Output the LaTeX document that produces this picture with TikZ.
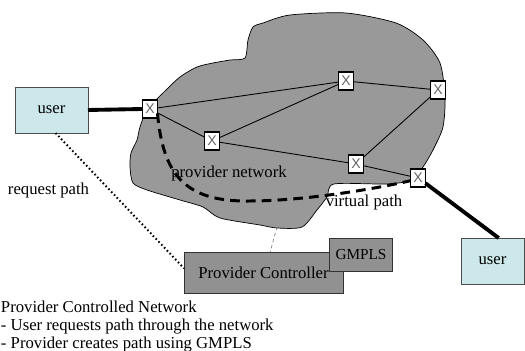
\documentclass[tikz,border=0pt]{standalone}
\usepackage{tikz}
\usepackage{xcolor}
\usepackage{fontspec}
\setmainfont{Liberation Serif}
\newfontfamily\xfont{Liberation Sans}
\definecolor{userblue}{RGB}{204,232,234}

\begin{document}
\begin{tikzpicture}[x=0.02cm, y=-0.02cm,
    every node/.style={outer sep=0pt, font=\fontsize{9.5}{10.4}\selectfont},
    switchbox/.style={draw, line width=1pt, fill=white, minimum width=0.3cm, minimum height=0.36cm, inner sep=0pt, text=black!60, font=\xfont\fontsize{8}{8}\selectfont},
    userbox/.style={draw=black!70, fill=userblue, minimum height=0.92cm},
    ctrlbox/.style={draw=black!80, fill=black!43},
    link/.style={line width=0.5pt},
    access/.style={line width=2.2pt},
    vpath/.style={line width=1.7pt, dash pattern=on 5.5pt off 3.5pt}]
    \useasboundingbox (0,0) rectangle (525,351);
    \filldraw[fill=black!40, draw=black, line width=0.4pt] plot[smooth cycle, tension=0.45] coordinates {
        (290,15) (346,13) (396,23) (423,40) (440,63) (445,97) (443,127) (433,150) (423,167) (412,180)
        (387,184) (334,184) (327,197) (317,210) (302,227) (277,228) (260,225) (220,218) (203,207)
        (180,200) (147,190) (133,183) (130,167) (131,153) (137,140) (140,127) (147,110) (163,93)
        (180,77) (197,67) (213,63) (230,60) (245,58) (248,40) (253,27) (263,23)};
    \coordinate (cloudbot) at (277,227);
    \coordinate (vmid) at (250,201);

    \node[userbox, minimum width=1.46cm] (user1) at (51.5,110) {user};
    \node[userbox, minimum width=1.26cm] (user2) at (492.5,261) {user};
    \node[switchbox] (s1) at (150,109) {X};
    \node[switchbox] (s2) at (212,141) {X};
    \node[switchbox] (s3) at (346,81) {X};
    \node[switchbox] (s4) at (438,90) {X};
    \node[switchbox] (s5) at (356,164) {X};
    \node[switchbox] (s6) at (418,178) {X};
    \node[ctrlbox, minimum width=3.18cm, minimum height=0.82cm] (ctrl) at (263.5,272.5) {Provider Controller};
    \node[ctrlbox, minimum width=1.12cm, minimum height=0.66cm, font=\fontsize{8.7}{9}\selectfont] (gmpls) at (361,254.5) {GMPLS};

    \draw[link] (s1) -- (s3);
    \draw[link] (s1) -- (s2);
    \draw[link] (s2) -- (s3);
    \draw[link] (s2) -- (s5);
    \draw[link] (s5) -- (s6);
    \draw[link] (s5) -- (s4);
    \draw[link] (s3) -- (s4);
    \draw[access] (user1.east) -- (s1.west);
    \draw[access] (s6.-35) -- (user2.75);
    \draw[vpath] (s1.-30) .. controls (163,175) and (185,202) .. (vmid) .. controls (300,201) and (370,190) .. (s6.200);
    \draw[line width=1.1pt, dash pattern=on 0.9pt off 1.4pt] (user1.-80) -- (ctrl.177);
    \draw[black!50, line width=0.4pt, dash pattern=on 2pt off 1.5pt] (cloudbot) -- (ctrl.72);

    \node (reqlabel) at (48.5,190) {request path};
    \node (netlabel) at (229,173) {provider network};
    \node (vlabel) at (364,202) {virtual path};
    \node[anchor=north west, align=left, inner sep=0pt, font=\fontsize{9.5}{10.1}\selectfont] (caption) at (1,301) {Provider Controlled Network\\- User requests path through the network\\- Provider creates path using GMPLS};
\end{tikzpicture}
\end{document}
